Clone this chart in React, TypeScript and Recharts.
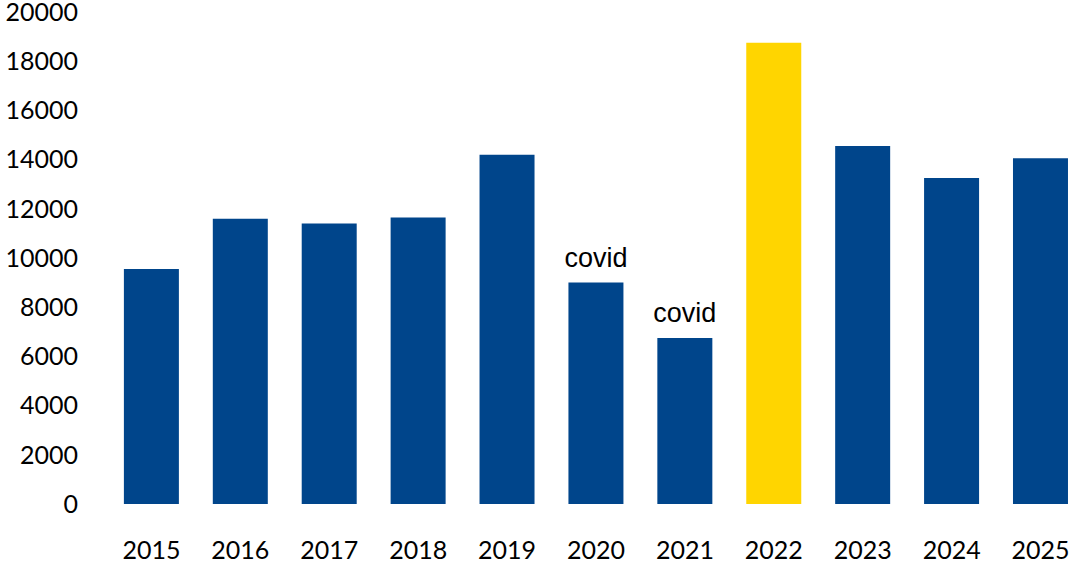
import { Bar, BarChart, Cell, LabelList, XAxis, YAxis } from "recharts";

const years = ["2015", "2016", "2017", "2018", "2019", "2020", "2021", "2022", "2023", "2024", "2025"];
const visitors = [9550, 11600, 11400, 11650, 14200, 9000, 6750, 18750, 14550, 13250, 14050];
const notes = ["", "", "", "", "", "covid", "covid", "", "", "", ""];
const highlightYear = "2022";
const yTicks = [0, 2000, 4000, 6000, 8000, 10000, 12000, 14000, 16000, 18000, 20000];

const chartData = years.map((year, i) => ({
    year,
    value: visitors[i],
    note: notes[i],
}));

const BLUE = "#00458B";
const YELLOW = "#FFD500";

const NoteLabel = (props: any) => {
    const { x, y, width, value } = props;
    if (!value) return null;
    return (
        <text
            x={Number(x) + Number(width) / 2}
            y={Number(y) - 16}
            textAnchor="middle"
            fontFamily="Liberation Sans"
            fontSize={27}
            fill="#000000"
        >
            {value}
        </text>
    );
};

const App = () => {
    return (
        <div style={{ position: "fixed", left: 0, top: 0, width: 1071, height: 562, overflow: "hidden", background: "#ffffff" }}>
            <BarChart
                width={1085}
                height={562}
                data={chartData}
                margin={{ top: 12, right: 0, bottom: 0, left: 0 }}
                barCategoryGap="19%"
            >
                <XAxis
                    dataKey="year"
                    axisLine={false}
                    tickLine={false}
                    tickSize={0}
                    tickMargin={37}
                    height={58}
                    interval={0}
                    tick={{ fill: "#000000", fontFamily: "Lato", fontSize: 25 }}
                />
                <YAxis
                    domain={[0, 20000]}
                    ticks={yTicks}
                    axisLine={false}
                    tickLine={false}
                    tickSize={0}
                    tickMargin={29}
                    width={107}
                    interval={0}
                    tick={{ fill: "#000000", fontFamily: "Lato", fontSize: 25 }}
                />
                <Bar dataKey="value" isAnimationActive={false}>
                    {chartData.map((d) => (
                        <Cell key={d.year} fill={d.year === highlightYear ? YELLOW : BLUE} />
                    ))}
                    <LabelList dataKey="note" content={NoteLabel} />
                </Bar>
            </BarChart>
        </div>
    );
};

export default App;
